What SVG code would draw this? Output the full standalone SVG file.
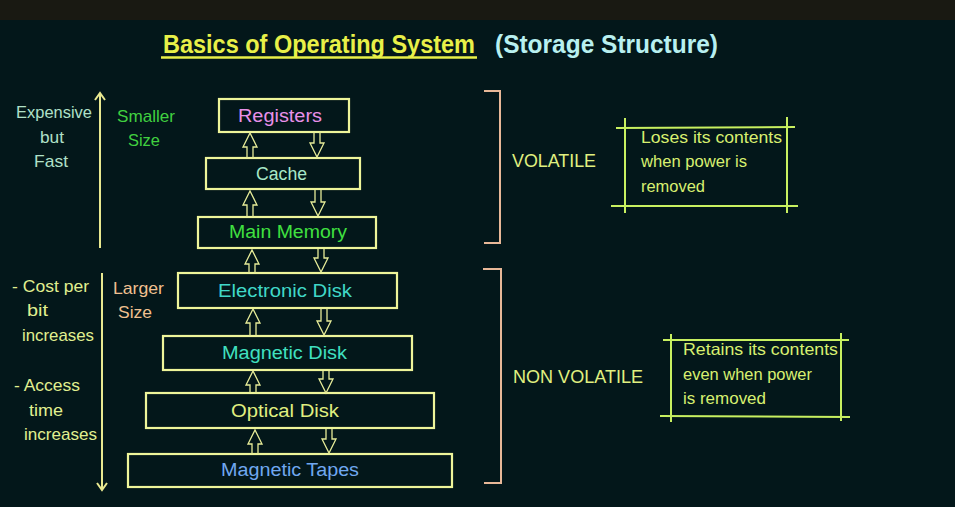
<svg xmlns="http://www.w3.org/2000/svg" width="955" height="507" viewBox="0 0 955 507">
<defs>
<style>
text{font-family:"Liberation Sans","DejaVu Sans",sans-serif;}
.box{fill:none;stroke:#eef59a;stroke-width:2.2;}
.lbl{font-size:18px;text-anchor:start;}
.arr{fill:none;stroke:#e6ec98;stroke-width:1.3;stroke-linejoin:miter;}
.side{font-size:17px;}
.vline{stroke:#e8e890;stroke-width:2;fill:none;}
.brk{stroke:#e8b898;stroke-width:2;fill:none;}
.note{stroke:#c8f060;stroke-width:2;fill:none;}
.nt{font-size:16.5px;fill:#d8f070;}
</style>
</defs>
<rect x="0" y="0" width="955" height="507" fill="#03171a"/>
<rect x="0" y="0" width="955" height="20" fill="#191912"/>

<g id="title">
<text x="163" y="53" font-size="25" font-weight="bold" fill="#e8f048" textLength="312" lengthAdjust="spacingAndGlyphs">Basics of Operating System</text>
<line x1="161" y1="57.5" x2="477" y2="57.5" stroke="#e8f048" stroke-width="2.5"/>
<text x="495" y="53" font-size="25" font-weight="bold" fill="#b8f0f0" textLength="223" lengthAdjust="spacingAndGlyphs">(Storage Structure)</text>
</g>

<g id="left-top">
<text class="side" x="16" y="118" fill="#b0e0c8" textLength="76" lengthAdjust="spacingAndGlyphs">Expensive</text>
<text class="side" x="40" y="143" fill="#b0e0c8" textLength="24" lengthAdjust="spacingAndGlyphs">but</text>
<text class="side" x="34" y="167" fill="#b0e0c8" textLength="34" lengthAdjust="spacingAndGlyphs">Fast</text>
<line class="vline" x1="100" y1="248" x2="100" y2="94"/>
<path class="vline" d="M95,100 L100,93 L105,100"/>
<text class="side" x="117" y="122" fill="#40d040" textLength="58" lengthAdjust="spacingAndGlyphs">Smaller</text>
<text class="side" x="128" y="146" fill="#40d040" textLength="32" lengthAdjust="spacingAndGlyphs">Size</text>
</g>

<g id="left-bottom">
<text class="side" x="12" y="292" fill="#e0f090" textLength="77" lengthAdjust="spacingAndGlyphs">- Cost per</text>
<text class="side" x="27" y="316" fill="#e0f090" textLength="21" lengthAdjust="spacingAndGlyphs">bit</text>
<text class="side" x="22" y="341" fill="#e0f090" textLength="72" lengthAdjust="spacingAndGlyphs">increases</text>
<text class="side" x="14" y="391" fill="#e0f090" textLength="66" lengthAdjust="spacingAndGlyphs">- Access</text>
<text class="side" x="29" y="416" fill="#e0f090" textLength="34" lengthAdjust="spacingAndGlyphs">time</text>
<text class="side" x="24" y="440" fill="#e0f090" textLength="73" lengthAdjust="spacingAndGlyphs">increases</text>
<line class="vline" x1="102" y1="273" x2="102" y2="489"/>
<path class="vline" d="M97,483 L102,490 L107,483"/>
<text class="side" x="113" y="294" fill="#f0c090" textLength="51" lengthAdjust="spacingAndGlyphs">Larger</text>
<text class="side" x="118" y="318" fill="#f0c090" textLength="34" lengthAdjust="spacingAndGlyphs">Size</text>
</g>

<g id="registers">
<rect class="box" x="219" y="99" width="130" height="33"/>
<text class="lbl" x="238" y="122" fill="#e890e8" textLength="84" lengthAdjust="spacingAndGlyphs">Registers</text>
</g>
<g id="cache">
<rect class="box" x="206" y="158" width="154" height="31"/>
<text class="lbl" x="256" y="180" fill="#a8e8c8" textLength="51" lengthAdjust="spacingAndGlyphs">Cache</text>
</g>
<g id="main-memory">
<rect class="box" x="198" y="217" width="178" height="31"/>
<text class="lbl" x="229" y="238" fill="#40e040" textLength="118" lengthAdjust="spacingAndGlyphs">Main Memory</text>
</g>
<g id="electronic-disk">
<rect class="box" x="178" y="273" width="219" height="35"/>
<text class="lbl" x="218" y="297" fill="#40d8c8" textLength="134" lengthAdjust="spacingAndGlyphs">Electronic Disk</text>
</g>
<g id="magnetic-disk">
<rect class="box" x="163" y="336" width="249" height="34"/>
<text class="lbl" x="222" y="359" fill="#40e0c0" textLength="125" lengthAdjust="spacingAndGlyphs">Magnetic Disk</text>
</g>
<g id="optical-disk">
<rect class="box" x="146" y="393" width="288" height="35"/>
<text class="lbl" x="231" y="417" fill="#e0f080" textLength="108" lengthAdjust="spacingAndGlyphs">Optical Disk</text>
</g>
<g id="magnetic-tapes">
<rect class="box" x="128" y="454" width="324" height="33"/>
<text class="lbl" x="221" y="476" fill="#70a8f0" textLength="138" lengthAdjust="spacingAndGlyphs">Magnetic Tapes</text>
</g>

<g id="connectors">
<path class="arr" d="M247,158 V147 H243 L250,133 L257,147 H253 V158"/>
<path class="arr" d="M314,132 V143 H310 L317,157 L324,143 H320 V132"/>
<path class="arr" d="M247,217 V205 H243 L250,191 L257,205 H253 V217"/>
<path class="arr" d="M315,190 V202 H311 L318,216 L325,202 H321 V190"/>
<path class="arr" d="M249,273 V264 H245 L252,250 L259,264 H255 V273"/>
<path class="arr" d="M318,249 V258 H314 L321,272 L328,258 H324 V249"/>
<path class="arr" d="M250,336 V323 H246 L253,309 L260,323 H256 V336"/>
<path class="arr" d="M321,308 V321 H317 L324,335 L331,321 H327 V308"/>
<path class="arr" d="M250,393 V385 H246 L253,371 L260,385 H256 V393"/>
<path class="arr" d="M323,371 V379 H319 L326,393 L333,379 H329 V371"/>
<path class="arr" d="M252,454 V444 H248 L255,430 L262,444 H258 V454"/>
<path class="arr" d="M326,429 V439 H322 L329,453 L336,439 H332 V429"/>
</g>

<g id="volatile">
<path class="brk" d="M484,91 H500 V243 H484"/>
<text x="512" y="167" font-size="18" fill="#e0f080" textLength="84" lengthAdjust="spacingAndGlyphs">VOLATILE</text>
</g>
<g id="volatile-note">
<line class="note" x1="616" y1="128" x2="795" y2="127"/>
<line class="note" x1="611" y1="206" x2="798" y2="206"/>
<line class="note" x1="625" y1="118" x2="625" y2="213"/>
<line class="note" x1="787" y1="117" x2="787" y2="213"/>
<text class="nt" x="641" y="143" textLength="141" lengthAdjust="spacingAndGlyphs">Loses its contents</text>
<text class="nt" x="641" y="167" textLength="106" lengthAdjust="spacingAndGlyphs">when power is</text>
<text class="nt" x="641" y="192" textLength="64" lengthAdjust="spacingAndGlyphs">removed</text>
</g>

<g id="non-volatile">
<path class="brk" d="M483,269 H501 V483 H484"/>
<text x="513" y="383" font-size="18" fill="#e0f080" textLength="130" lengthAdjust="spacingAndGlyphs">NON VOLATILE</text>
</g>
<g id="non-volatile-note">
<line class="note" x1="663" y1="340" x2="849" y2="340"/>
<line class="note" x1="660" y1="416" x2="850" y2="417"/>
<line class="note" x1="671" y1="334" x2="671" y2="422"/>
<line class="note" x1="841" y1="333" x2="841" y2="421"/>
<text class="nt" x="683" y="355" textLength="155" lengthAdjust="spacingAndGlyphs">Retains its contents</text>
<text class="nt" x="683" y="380" textLength="129" lengthAdjust="spacingAndGlyphs">even when power</text>
<text class="nt" x="683" y="404" textLength="83" lengthAdjust="spacingAndGlyphs">is removed</text>
</g>
</svg>
